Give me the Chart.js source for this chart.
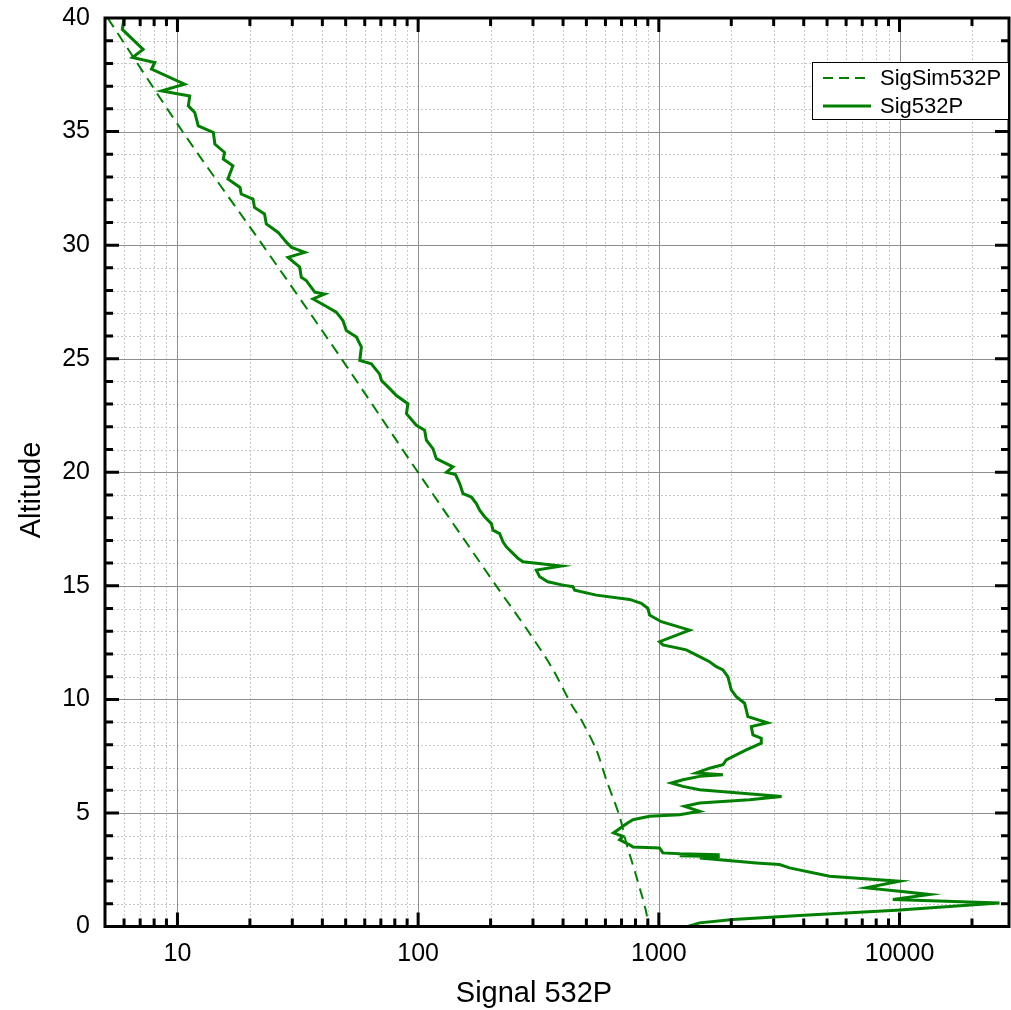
<!DOCTYPE html>
<html>
<head>
<meta charset="utf-8">
<title>Signal 532P</title>
<script src="https://cdn.jsdelivr.net/npm/chart.js@4.4.1/dist/chart.umd.min.js"></script>
<style>
  html, body { margin: 0; padding: 0; background: #fff; }
  #wrap { width: 1011px; height: 1010px; }
</style>
</head>
<body>
<div id="wrap"><canvas id="sigChart" width="1011" height="1010"></canvas></div>
<script>
// simulated signal (dashed)
const simAltitude = [40, 35, 30, 25, 20, 15, 12.92, 11.43, 9.76, 9.1, 7.78, 6.46, 4.85, 3.69, 2.21, 0.62, 0];
const simSignal = [5.13, 10.5, 22.6, 48, 99.8, 211, 290, 358, 434, 476, 550, 605, 687, 732, 806, 887, 898];

// measured signal (solid)
const sigAltitude = [
  40.0, 39.5, 38.62, 38.26, 38.04, 37.75, 37.09, 36.79, 36.57, 36.13,
  35.84, 35.25, 34.96, 34.45, 34.08, 33.79, 33.49, 32.91, 32.54, 32.25,
  32.03, 31.66, 31.37, 30.93, 30.56, 30.12, 29.9, 29.68, 29.46, 29.03,
  28.58, 28.44, 27.93, 27.85, 27.63, 27.34, 27.05, 26.68, 26.24, 25.95,
  25.51, 24.92, 24.77, 24.32, 24.04, 23.68, 23.38, 23.02, 22.58, 22.07,
  21.85, 21.41, 21.04, 20.6, 20.24, 20.0, 19.9, 19.5, 19.06, 18.91,
  18.62, 18.33, 18.04, 17.74, 17.45, 17.3, 16.94, 16.72, 16.43, 16.21,
  16.06, 15.99, 15.87, 15.69, 15.4, 15.18, 15.03, 14.96, 14.81, 14.59,
  14.4, 14.23, 14.01, 13.71, 13.42, 13.05, 12.54, 12.4, 12.18, 11.88,
  11.66, 11.44, 11.3, 11.0, 10.71, 10.42, 10.12, 9.83, 9.54, 9.24,
  8.97, 8.8, 8.44, 8.29, 8.07, 7.78, 7.56, 7.34, 7.12, 6.97,
  6.76, 6.68, 6.61, 6.46, 6.32, 6.17, 6.02, 5.9, 5.72, 5.58,
  5.44, 5.29, 5.07, 4.92, 4.85, 4.7, 4.56, 4.41, 4.12, 3.97,
  3.82, 3.6, 3.5, 3.46, 3.24, 3.2, 3.16, 3.12, 3.08, 3.02,
  2.8, 2.73, 2.58, 2.21, 1.99, 1.7, 1.55, 1.41, 1.19, 1.04,
  0.89, 0.72, 0.48, 0.31, 0.16, 0.0
];
const sigSignal = [
  6.0, 5.9, 7.2, 6.5, 8.05, 7.8, 10.7, 8.6, 11.25, 11.1,
  11.8, 12.2, 14.1, 14.3, 15.7, 15.5, 17.0, 16.2, 18.2, 18.4,
  20.6, 20.9, 23.0, 23.4, 26.2, 28.4, 29.8, 33.8, 28.8, 32.2,
  32.7, 34.3, 37.2, 40.9, 36.6, 40.9, 45.7, 48.7, 50.3, 55.4,
  58.1, 57.2, 63.9, 69.2, 70.4, 76.2, 81.2, 90.7, 89.4, 98.3,
  106.4, 108.2, 115.2, 119, 139.5, 131, 143, 148.8, 153.6, 166.4,
  174.5, 180.1, 188.9, 201.5, 204.6, 218.1, 225.1, 232.5, 247.7, 259.8,
  272.5, 309.8, 393.5, 309.8, 319.7, 346.1, 399.5, 439.7, 446.9, 549.9,
  756, 845.6, 900.6, 915.3, 1023.8, 1342, 1007, 1039.6, 1300, 1476.6,
  1624.6, 1733, 1845.6, 1935.5, 1967, 1999.6, 2097, 2271, 2308, 2344,
  2829, 2421, 2459, 2665, 2665, 2308, 2097, 1906, 1845.6, 1624.6,
  1430.6, 1845.6, 1476.6, 1258.6, 1126.6, 1258.6, 1476.6, 2031, 3236, 2382,
  1476.6, 1279, 1476.6, 1219.6, 915.3, 780.5, 742, 709, 648.7, 709,
  687, 756, 780.5, 1007, 1039.6, 1220, 1790, 1220, 1790, 1480,
  2540, 3175, 3493, 5120, 10000, 7273, 10000, 13320, 9380, 26020,
  16650, 9700, 3842, 2031, 1477, 1320
];

// labelled ticks
const xLabelTicks = [10, 100, 1000, 10000];
const yLabelTicks = [0, 5, 10, 15, 20, 25, 30, 35, 40];

const X_MIN = 5, X_MAX = 28500, Y_MIN = 0, Y_MAX = 40;
const FONT = "'Liberation Sans', Arial, sans-serif";
const GREEN = "#008000";

// all tick positions on the log axis: 1..9 x each decade
const xTickValues = [];
for (let d = 1; d <= 10000; d *= 10) {
  for (let m = 1; m <= 9; m++) {
    const v = m * d;
    if (v > X_MIN && v < X_MAX) xTickValues.push(v);
  }
}

const toPoints = (xs, ys) => xs.map((v, i) => ({ x: v, y: ys[i] }));

const crisp = v => Math.round(v) + 0.5;

const framePlugin = {
  id: "frame",
  beforeDatasetsDraw(chart) {
    const { ctx, chartArea: a, scales: { x, y } } = chart;
    ctx.save();
    ctx.lineWidth = 1;

    // dotted minor grid
    ctx.strokeStyle = "#c9c9c9";
    ctx.setLineDash([2, 2]);
    ctx.beginPath();
    xTickValues.filter(v => !xLabelTicks.includes(v)).forEach(v => {
      const px = crisp(x.getPixelForValue(v));
      ctx.moveTo(px, a.top);
      ctx.lineTo(px, a.bottom);
    });
    for (let v = Y_MIN + 1; v < Y_MAX; v++) {
      if (v % 5 === 0) continue;
      const py = crisp(y.getPixelForValue(v));
      ctx.moveTo(a.left, py);
      ctx.lineTo(a.right, py);
    }
    ctx.stroke();

    // solid major grid
    ctx.setLineDash([]);
    ctx.strokeStyle = "#8e8e8e";
    ctx.beginPath();
    xLabelTicks.forEach(v => {
      const px = crisp(x.getPixelForValue(v));
      ctx.moveTo(px, a.top);
      ctx.lineTo(px, a.bottom);
    });
    yLabelTicks.filter(v => v > Y_MIN && v < Y_MAX).forEach(v => {
      const py = crisp(y.getPixelForValue(v));
      ctx.moveTo(a.left, py);
      ctx.lineTo(a.right, py);
    });
    ctx.stroke();
    ctx.restore();
  },
  afterDatasetsDraw(chart) {
    const { ctx, chartArea: a, scales: { x, y } } = chart;
    const ds = chart.data.datasets;
    ctx.save();

    // inward ticks on all four sides
    ctx.strokeStyle = "#000";
    ctx.lineWidth = 3;
    ctx.beginPath();
    xTickValues.forEach(v => {
      const len = xLabelTicks.includes(v) ? 14 : 8;
      const px = x.getPixelForValue(v);
      ctx.moveTo(px, a.bottom);
      ctx.lineTo(px, a.bottom - len);
      ctx.moveTo(px, a.top);
      ctx.lineTo(px, a.top + len);
    });
    for (let v = Y_MIN + 1; v < Y_MAX; v++) {
      const len = v % 5 === 0 ? 14 : 8;
      const py = y.getPixelForValue(v);
      ctx.moveTo(a.left, py);
      ctx.lineTo(a.left + len, py);
      ctx.moveTo(a.right, py);
      ctx.lineTo(a.right - len, py);
    }
    ctx.stroke();

    // frame
    ctx.lineWidth = 3;
    ctx.strokeRect(a.left, a.top, a.right - a.left, a.bottom - a.top);

    // legend box
    const lx = 812.5, ly = 62.5, lw = 196, lh = 57;
    ctx.fillStyle = "#fff";
    ctx.fillRect(lx, ly, lw, lh);
    ctx.lineWidth = 1;
    ctx.strokeRect(lx, ly, lw, lh);
    const rows = [78, 106];
    ds.forEach((d, i) => {
      ctx.strokeStyle = d.borderColor;
      ctx.lineWidth = d.borderWidth;
      ctx.setLineDash(d.borderDash ? [10, 6] : []);
      ctx.beginPath();
      ctx.moveTo(823, rows[i]);
      ctx.lineTo(871, rows[i]);
      ctx.stroke();
      ctx.setLineDash([]);
      ctx.fillStyle = "#000";
      ctx.font = "22px " + FONT;
      ctx.textAlign = "left";
      ctx.textBaseline = "middle";
      ctx.fillText(d.label, 880, rows[i] + 1);
    });

    // axis titles
    ctx.fillStyle = "#000";
    ctx.font = "29px " + FONT;
    ctx.textAlign = "center";
    ctx.textBaseline = "middle";
    ctx.fillText("Signal 532P", 534, 994);
    ctx.translate(32, 490);
    ctx.rotate(-Math.PI / 2);
    ctx.fillText("Altitude", 0, 0);
    ctx.restore();
  }
};

const ctx = document.getElementById("sigChart").getContext("2d");

new Chart(ctx, {
  type: "scatter",
  data: {
    datasets: [
      {
        label: "SigSim532P",
        data: toPoints(simSignal, simAltitude),
        borderColor: GREEN,
        borderWidth: 2,
        borderDash: [11, 7],
        tension: 0.3,
        showLine: true,
        pointRadius: 0,
        fill: false,
      },
      {
        label: "Sig532P",
        data: toPoints(sigSignal, sigAltitude),
        borderColor: GREEN,
        borderWidth: 3,
        showLine: true,
        pointRadius: 0,
        fill: false,
      },
    ],
  },
  options: {
    responsive: false,
    animation: false,
    layout: { padding: { top: 18, right: 2, left: 0, bottom: 0 } },
    plugins: {
      legend: { display: false },
      tooltip: { enabled: false },
    },
    scales: {
      x: {
        type: "logarithmic",
        min: X_MIN,
        max: X_MAX,
        grid: { display: false, drawTicks: false },
        border: { display: false },
        afterBuildTicks: s => { s.ticks = xTickValues.map(v => ({ value: v })); },
        afterFit: s => {
          s.height = 83.5;
          s.paddingLeft = 0;
          s.paddingRight = 0;
        },
        ticks: {
          autoSkip: false,
          maxRotation: 0,
          padding: 13,
          color: "#000",
          font: { family: FONT, size: 25 },
          callback: v => (xLabelTicks.includes(v) ? String(v) : ""),
        },
      },
      y: {
        type: "linear",
        min: Y_MIN,
        max: Y_MAX,
        grid: { display: false, drawTicks: false },
        border: { display: false },
        afterFit: s => {
          s.width = 105;
          s.paddingTop = 0;
          s.paddingBottom = 0;
        },
        ticks: {
          stepSize: 1,
          autoSkip: false,
          padding: 15,
          color: "#000",
          font: { family: FONT, size: 25 },
          callback: v => (yLabelTicks.includes(v) ? String(v) : ""),
        },
      },
    },
  },
  plugins: [framePlugin],
});
</script>
</body>
</html>
